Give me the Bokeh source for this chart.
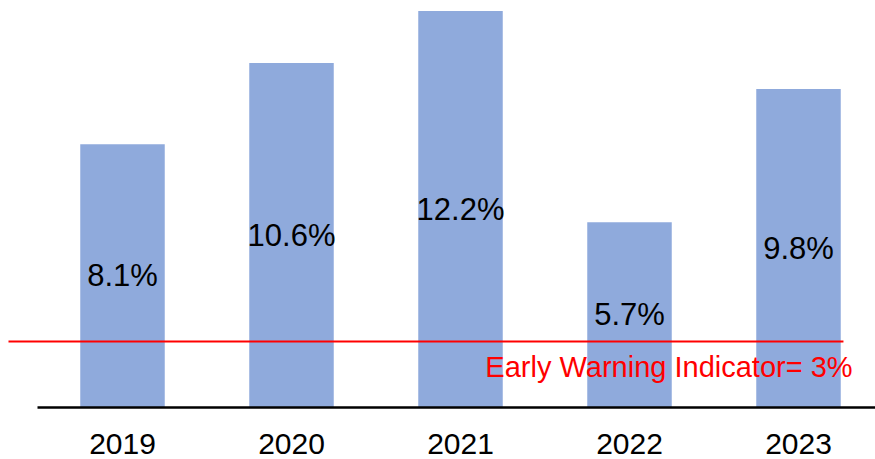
from bokeh.plotting import figure
from bokeh.models import ColumnDataSource, FixedTicker, Range1d
from bokeh.core.properties import value
from bokeh.embed import file_html
from bokeh.resources import INLINE

years = ["2019", "2020", "2021", "2022", "2023"]
rates = [8.1, 10.6, 12.2, 5.7, 9.8]
labels = ["8.1%", "10.6%", "12.2%", "5.7%", "9.8%"]
warning_level = 2.03  # position of the drawn red line on the value scale
warning_text = "Early Warning Indicator= 3%"

xs = list(range(len(years)))
src = ColumnDataSource(dict(x=xs, top=rates, mid=[r / 2 for r in rates], label=labels))

p = figure(width=875, height=459, output_backend="svg", toolbar_location=None,
           x_range=Range1d(-0.7219, 4.4556), y_range=Range1d(0, 12.523),
           min_border_left=0, min_border_right=0, min_border_top=0, min_border_bottom=52)
p.outline_line_color = None
p.xgrid.visible = False
p.ygrid.visible = False
p.yaxis.visible = False

p.vbar(x="x", top="top", width=0.5, bottom=0, source=src, fill_color="#8FAADC", line_color=None)
p.text(x="x", y="mid", text="label", source=src, text_align="center", text_baseline="middle",
       text_font=value("Liberation Sans"), text_font_size="31px", text_color="black")

p.segment(x0=[-0.6746], y0=[warning_level], x1=[4.266], y1=[warning_level], line_color="#FF0000", line_width=2)
p.text(x=[4.32], y=[1.26], text=[warning_text], text_align="right", text_baseline="middle",
       text_font=value("Liberation Sans"), text_font_size="29px", text_color="#FF0000")

ax = p.xaxis[0]
ax.ticker = FixedTicker(ticks=xs)
ax.major_label_overrides = {i: y for i, y in enumerate(years)}
ax.bounds = (-0.503, 4.4556)
ax.axis_line_color = "black"
ax.axis_line_width = 2.5
ax.major_tick_line_color = None
ax.minor_tick_line_color = None
ax.major_tick_out = 0
ax.major_tick_in = 0
ax.major_label_standoff = 26
ax.major_label_text_font = "Liberation Sans"
ax.major_label_text_font_size = "30px"
ax.major_label_text_color = "black"

open("out.html", "w").write(file_html(p, INLINE))
